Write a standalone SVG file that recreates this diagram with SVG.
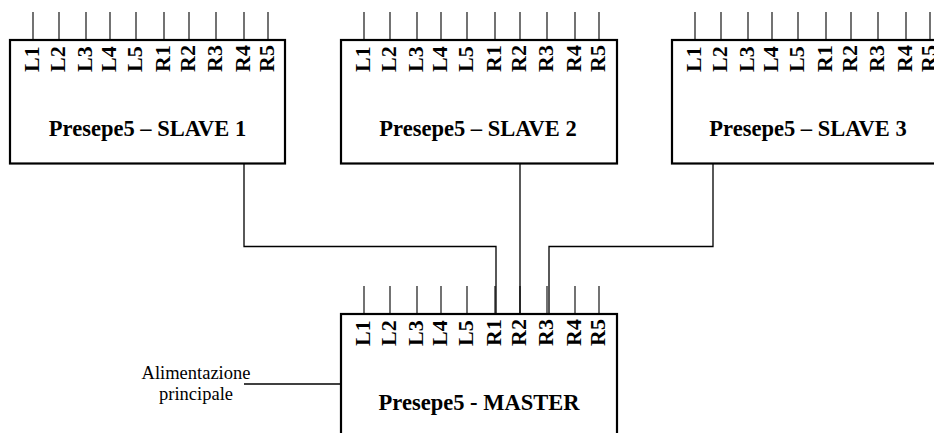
<svg xmlns="http://www.w3.org/2000/svg" width="934" height="433" viewBox="0 0 934 433">
  <style>
    .box { fill: #fff; stroke: #000; stroke-width: 2.2; }
    .pin { stroke: #000; stroke-width: 1.1; fill: none; }
    .wire { stroke: #000; stroke-width: 1.3; fill: none; }
    .pl { font-family: "Liberation Serif", "Times New Roman", serif; font-weight: bold; font-size: 22px; fill: #000; }
    .title { font-family: "Liberation Serif", "Times New Roman", serif; font-weight: bold; font-size: 22.5px; fill: #000; text-anchor: middle; }
    .note { font-family: "Liberation Serif", "Times New Roman", serif; font-size: 18.5px; fill: #000; text-anchor: middle; }
  </style>
  <defs>
    <!-- ten-pin header: stubs above the top edge and rotated pin names -->
    <g id="pins">
      <path class="pin" d="M23 -28V0M49 -28V0M76 -28V0M100 -28V0M126 -28V0M154 -28V0M179 -28V0M206 -28V0M234 -28V0M258 -28V0"/>
      <text class="pl" transform="translate(29 32) rotate(-90)">L1</text>
      <text class="pl" transform="translate(55 32) rotate(-90)">L2</text>
      <text class="pl" transform="translate(82 32) rotate(-90)">L3</text>
      <text class="pl" transform="translate(106 32) rotate(-90)">L4</text>
      <text class="pl" transform="translate(132 32) rotate(-90)">L5</text>
      <text class="pl" transform="translate(160 32) rotate(-90)">R1</text>
      <text class="pl" transform="translate(185 32) rotate(-90)">R2</text>
      <text class="pl" transform="translate(212 32) rotate(-90)">R3</text>
      <text class="pl" transform="translate(240 32) rotate(-90)">R4</text>
      <text class="pl" transform="translate(264 32) rotate(-90)">R5</text>
    </g>
  </defs>

  <rect width="934" height="433" fill="#fff"/>

  <!-- bus wiring between slaves and master -->
  <g id="connectors">
    <path class="wire" d="M244 163.5V246.5H496V314"/>
    <path class="wire" d="M520 163.5V314"/>
    <path class="wire" d="M713 163.5V246.5H549V314"/>
    <path class="wire" d="M244 384H341"/>
  </g>

  <g id="slave1">
    <rect class="box" x="10" y="40" width="275" height="123.5"/>
    <use href="#pins" x="10" y="40"/>
    <text class="title" x="147.5" y="136">Presepe5 – SLAVE 1</text>
  </g>

  <g id="slave2">
    <rect class="box" x="341" y="40" width="276" height="123.5"/>
    <use href="#pins" x="341" y="40"/>
    <text class="title" x="478" y="136">Presepe5 – SLAVE 2</text>
  </g>

  <g id="slave3">
    <rect class="box" x="672" y="40" width="276" height="123.5"/>
    <use href="#pins" x="672" y="40"/>
    <text class="title" x="808" y="136">Presepe5 – SLAVE 3</text>
  </g>

  <g id="master">
    <rect class="box" x="341" y="314" width="276" height="140"/>
    <use href="#pins" x="341" y="314"/>
    <text class="title" x="479" y="410">Presepe5 - MASTER</text>
  </g>

  <g id="power">
    <text class="note" x="196" y="379">Alimentazione</text>
    <text class="note" x="196" y="400">principale</text>
  </g>
</svg>
